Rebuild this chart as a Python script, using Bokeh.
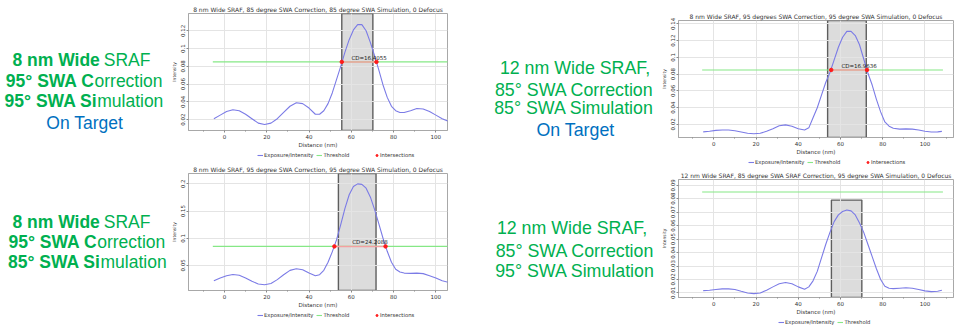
from bokeh.plotting import figure
from bokeh.layouts import row, column
from bokeh.models import Range1d, FixedTicker, Legend, LegendItem
from bokeh.core.properties import value
from bokeh.embed import file_html
from bokeh.resources import INLINE

# ---------------- data ----------------
distance = [-5, -2, 1, 4, 7, 10, 13, 16, 19, 22, 25, 28, 31, 34, 37, 40, 43,
            45, 47, 49, 51, 53, 55, 57, 59, 61, 63, 65, 67, 69, 71, 73, 75, 77, 79, 81, 83,
            85, 88, 91, 94, 97, 100, 103, 106, 108]

intensity_8nm_85_85 = [0.021, 0.025, 0.029, 0.031, 0.030, 0.026, 0.021, 0.016, 0.0145, 0.016,
                       0.021, 0.028, 0.035, 0.039, 0.038, 0.033, 0.026,
                       0.026, 0.030, 0.038, 0.050, 0.065, 0.080, 0.096, 0.110, 0.121, 0.127,
                       0.127, 0.120, 0.107, 0.092, 0.076, 0.059, 0.045, 0.035, 0.030, 0.028,
                       0.028, 0.030, 0.0325, 0.032, 0.029, 0.025, 0.021, 0.018, 0.016]

intensity_12nm_85_85 = [0.0112, 0.012, 0.013, 0.0135, 0.0135, 0.0125, 0.011, 0.0095, 0.009, 0.0095,
                        0.012, 0.015, 0.0185, 0.0195, 0.018, 0.015, 0.0135,
                        0.016, 0.028, 0.040, 0.055, 0.070, 0.082, 0.097, 0.112, 0.124, 0.131,
                        0.131, 0.126, 0.115, 0.098, 0.081, 0.067, 0.050, 0.035, 0.023, 0.018,
                        0.0155, 0.0145, 0.0148, 0.0145, 0.0135, 0.012, 0.011, 0.0112, 0.0118]

intensity_8nm_95_85 = [0.022, 0.027, 0.031, 0.0335, 0.032, 0.027, 0.021, 0.016, 0.0146, 0.017,
                       0.024, 0.033, 0.041, 0.044, 0.042, 0.036, 0.031,
                       0.033, 0.041, 0.056, 0.075, 0.097, 0.125, 0.155, 0.180, 0.195, 0.200,
                       0.199, 0.192, 0.176, 0.153, 0.127, 0.100, 0.076, 0.056, 0.043, 0.038,
                       0.036, 0.0355, 0.036, 0.035, 0.031, 0.027, 0.022, 0.019, 0.017]

intensity_12nm_85_95 = [0.0117, 0.012, 0.0125, 0.013, 0.013, 0.0125, 0.0112, 0.010, 0.0095, 0.010,
                        0.012, 0.0145, 0.0168, 0.0177, 0.0168, 0.0145, 0.0127,
                        0.0145, 0.019, 0.026, 0.036, 0.046, 0.055, 0.063, 0.068, 0.0705, 0.0716,
                        0.071, 0.068, 0.062, 0.055, 0.046, 0.037, 0.028, 0.020, 0.015, 0.0135,
                        0.0132, 0.0135, 0.0138, 0.0135, 0.0125, 0.0115, 0.011, 0.0113, 0.012]

threshold = 0.085
threshold_extent = [-5.5, 108.5]

band_8nm_85_85 = [55.5, 70.2]
band_12nm_85_85 = [53.9, 72.2]
band_8nm_95_85 = [53.9, 71.7]
band_12nm_85_95 = [55.7, 70.1]
band_top_12nm_85_95 = 0.079

inters_8nm_85_85 = [55.5, 71.9]
inters_12nm_85_85 = [55.6, 72.56]
inters_8nm_95_85 = [52.0, 76.2]

cd_8nm_85_85 = "CD=16.4055"
cd_12nm_85_85 = "CD=16.9636"
cd_8nm_95_85 = "CD=24.2088"

title_tl = "8 nm Wide SRAF, 85 degree SWA Correction, 85 degree SWA Simulation, 0 Defocus"
title_tr = "8 nm Wide SRAF, 95 degrees SWA Correction, 95 degree SWA Simulation, 0 Defocus"
title_bl = "8 nm Wide SRAF, 95 degree SWA Correction, 95 degree SWA Simulation, 0 Defocus"
title_br = "12 nm Wide SRAF, 85 degree SWA SRAF Correction, 95 degree SWA Simulation, 0 Defocus"

x_ticks = [0, 20, 40, 60, 80, 100]
x_tick_labels = ["0", "20", "40", "60", "80", "100"]
x_minor_ticks = [-10, 10, 30, 50, 70, 90, 110]

y_ticks_tl = [0.02, 0.04, 0.06, 0.08, 0.1, 0.12]
y_labels_tl = ["0.02", "0.04", "0.06", "0.08", "0.1", "0.12"]
y_ticks_tr = [0.02, 0.04, 0.06, 0.08, 0.1, 0.12, 0.14]
y_labels_tr = ["0.02", "0.04", "0.06", "0.08", "0.1", "0.12", "0.14"]
y_ticks_bl = [0.05, 0.1, 0.15, 0.2]
y_labels_bl = ["0.05", "0.1", "0.15", "0.2"]
y_ticks_br = [0.01, 0.02, 0.03, 0.04, 0.05, 0.06, 0.07, 0.08, 0.09]
y_labels_br = ["0.01", "0.02", "0.03", "0.04", "0.05", "0.06", "0.07", "0.08", "0.09"]

legend_labels = ["Exposure/Intensity", "Threshold", "Intersections"]

left_top_bold = ["8 nm Wide", "95\u00b0 SWA C", "95\u00b0 SWA Si"]
left_top_normal = ["SRAF", "orrection", "mulation"]
left_bot_bold = ["8 nm Wide", "95\u00b0 SWA C", "85\u00b0 SWA Si"]
left_bot_normal = ["SRAF", "orrection", "mulation"]
on_target = "On Target"
mid_top = ["12 nm Wide SRAF,", "85\u00b0 SWA Correction", "85\u00b0 SWA Simulation"]
mid_bot = ["12 nm Wide SRAF,", "85\u00b0 SWA Correction", "95\u00b0 SWA Simulation"]

# ---------------- styles ----------------
GREEN = "#00b050"
BLUE = "#0070c0"
CURVE = "#7b7be6"
THR = "#86e886"
SEG = "#f4a0a0"
DOT = "#ff1a1a"
FONT = "DejaVu Sans"


def make_chart(title, intensity, band, x_rng, y_rng, y_ticks, y_labels, width, height,
               borders, inters=None, cd_text=None, band_top=None):
    bl, br, bt, bb = borders
    p = figure(width=width, height=height, output_backend="svg", toolbar_location=None,
               x_range=Range1d(*x_rng), y_range=Range1d(*y_rng), title=title,
               min_border_left=bl, min_border_right=br, min_border_top=bt, min_border_bottom=bb)
    p.title.text_font = FONT
    p.title.text_font_size = "6px"
    p.title.text_font_style = "normal"
    p.title.text_color = "#333333"
    p.title.align = "center"
    p.title.standoff = 2
    p.title.offset = 0
    p.outline_line_color = "#a8a8a8"

    top = band_top if band_top is not None else y_rng[1]
    p.quad(left=[band[0]], right=[band[1]], bottom=[y_rng[0]], top=[top],
           fill_color="#dcdcdc", line_color="#5e5e5e", line_width=1.4, level="image")

    p.line(distance, intensity, line_color=CURVE, line_width=1.1)
    p.line(threshold_extent, [threshold, threshold], line_color=THR, line_width=1.1)
    if inters is not None:
        p.line(inters, [threshold, threshold], line_color=SEG, line_width=1.5)
        p.scatter(inters, [threshold, threshold], size=3.5, color=DOT)
        p.text(x=[(inters[0] + inters[1]) / 2], y=[threshold], text=[cd_text],
               x_offset=10, y_offset=-1, text_align="center", text_baseline="bottom",
               text_font=value(FONT), text_font_size="5.5px", text_color="#222222")

    for ax in (p.xaxis[0], p.yaxis[0]):
        ax.axis_line_color = "#a8a8a8"
        ax.major_tick_line_color = "#888888"
        ax.minor_tick_line_color = "#888888"
        ax.major_tick_out = 2
        ax.major_tick_in = 0
        ax.minor_tick_out = 1
        ax.minor_tick_in = 0
        ax.major_label_text_font = FONT
        ax.major_label_text_font_size = "5.5px"
        ax.major_label_text_color = "#333333"
        ax.major_label_standoff = 1
        ax.axis_label_text_font = FONT
        ax.axis_label_text_font_style = "normal"
        ax.axis_label_text_color = "#333333"
        ax.axis_label_standoff = 0

    p.xaxis.ticker = FixedTicker(ticks=x_ticks, minor_ticks=x_minor_ticks)
    p.xaxis.major_label_overrides = dict(zip(x_ticks, x_tick_labels))
    p.xaxis.axis_label = "Distance (nm)"
    p.xaxis.axis_label_text_font_size = "5.5px"

    p.yaxis.ticker = FixedTicker(ticks=y_ticks)
    p.yaxis.major_label_overrides = dict(zip(y_ticks, y_labels))
    p.yaxis.major_label_orientation = "vertical"
    p.yaxis.axis_label = "Intensity"
    p.yaxis.axis_label_text_font_size = "4.5px"
    p.yaxis.axis_label_standoff = 1

    p.xgrid.ticker = FixedTicker(ticks=x_ticks)
    p.ygrid.ticker = FixedTicker(ticks=y_ticks)
    p.grid.grid_line_color = "#e4e4e4"
    p.grid.grid_line_width = 1
    return p


def style_legend(leg):
    leg.label_text_font = FONT
    leg.label_text_font_size = "5.3px"
    leg.label_text_color = "#333333"
    leg.label_height = 5
    leg.glyph_height = 6
    leg.glyph_width = 6
    leg.label_standoff = 1
    leg.spacing = 3
    leg.padding = 0
    leg.margin = 0
    leg.border_line_color = None
    leg.background_fill_alpha = 0
    leg.inactive_fill_alpha = 0


def legend_fig(width, intensity, x0, inters=None, dot_x0=None, height=10):
    # a strip below each chart holding its legend; its renderers are hidden copies of the series
    f = figure(width=width, height=height, output_backend="svg", toolbar_location=None,
               x_range=Range1d(0, 1), y_range=Range1d(0, 1),
               x_axis_location=None, y_axis_location=None, min_border=0)
    f.grid.visible = False
    f.outline_line_color = None
    r1 = f.line(distance, intensity, line_color=CURVE, line_width=1.1, visible=False)
    r2 = f.line(threshold_extent, [threshold, threshold], line_color=THR, line_width=1.1,
                visible=False)
    leg = Legend(items=[LegendItem(label=legend_labels[0], renderers=[r1]),
                        LegendItem(label=legend_labels[1], renderers=[r2])],
                 location=(x0, 2), orientation="horizontal")
    style_legend(leg)
    f.add_layout(leg)
    if inters is not None:
        r3 = f.scatter(inters, [threshold, threshold], size=3.5, color=DOT, visible=False)
        leg2 = Legend(items=[LegendItem(label=legend_labels[2], renderers=[r3])],
                      location=(dot_x0, 2), orientation="horizontal")
        style_legend(leg2)
        leg2.glyph_width = 5
        f.add_layout(leg2)
    return f


p_tl = make_chart(title_tl, intensity_8nm_85_85, band_8nm_85_85, (-17, 105.5), (0.0077, 0.1395),
                  y_ticks_tl, y_labels_tl, 290, 150, (19, 11, 13, 16),
                  inters=inters_8nm_85_85, cd_text=cd_8nm_85_85)
p_bl = make_chart(title_bl, intensity_8nm_95_85, band_8nm_95_85, (-17, 105.5), (0.004, 0.219),
                  y_ticks_bl, y_labels_bl, 290, 150, (19, 11, 13, 16),
                  inters=inters_8nm_95_85, cd_text=cd_8nm_95_85)
p_tr = make_chart(title_tr, intensity_12nm_85_85, band_12nm_85_85, (-16.7, 113.5), (0.0045, 0.1439),
                  y_ticks_tr, y_labels_tr, 312, 157, (20, 17, 20, 17),
                  inters=inters_12nm_85_85, cd_text=cd_12nm_85_85)
p_br = make_chart(title_br, intensity_12nm_85_95, band_12nm_85_95, (-16.7, 113.5), (0.0066, 0.0943),
                  y_ticks_br, y_labels_br, 312, 150, (20, 17, 12, 17),
                  band_top=band_top_12nm_85_95)

l_tl = legend_fig(290, intensity_8nm_85_85, 69, inters_8nm_85_85, 186)
l_bl = legend_fig(290, intensity_8nm_95_85, 69, inters_8nm_95_85, 186)
l_tr = legend_fig(312, intensity_12nm_85_85, 70, inters_12nm_85_85, 187)
l_br = legend_fig(312, intensity_12nm_85_95, 100)


def text_fig(width, height):
    t = figure(width=width, height=height, output_backend="svg", toolbar_location=None,
               x_range=Range1d(0, width), y_range=Range1d(height, 0),
               x_axis_location=None, y_axis_location=None, min_border=0)
    t.grid.visible = False
    t.outline_line_color = None
    return t


LTXT = dict(text_font=value("Liberation Sans"), text_font_size="17.5px", text_baseline="alphabetic")
MTXT = dict(text_font=value("Liberation Sans"), text_font_size="17.8px", text_baseline="alphabetic")

# left text block
t_left = text_fig(168, 327)
t_left.text(x=[99.3, 94, 96.7, 99.3, 96.7, 100], y=[59.3, 80.7, 100, 221, 241.7, 261.7],
            text=left_top_bold + left_bot_bold, text_align="right", text_font_style="bold",
            text_color=GREEN, **LTXT)
t_left.text(x=[103.3, 94, 96.7, 103.3, 96.7, 100], y=[59.3, 80.7, 100, 221, 241.7, 261.7],
            text=left_top_normal + left_bot_normal, text_align="left",
            text_color=GREEN, **LTXT)
t_left.text(x=[84.2], y=[122], text=[on_target], text_align="center", text_color=BLUE, **LTXT)

# middle text block
t_mid = text_fig(200, 327)
t_mid.text(x=[116.5, 115.8, 115.5, 113.5, 116.5, 116.5], y=[67.3, 89.3, 107.7, 227.3, 250, 270],
           text=mid_top + mid_bot, text_align="center", text_color=GREEN, **MTXT)
t_mid.text(x=[117], y=[129.3], text=[on_target], text_align="center", text_color=BLUE, **MTXT)

layout = row(t_left, column(p_tl, l_tl, p_bl, l_bl), t_mid, column(p_tr, l_tr, p_br, l_br))

open("out.html", "w").write(file_html(layout, INLINE))
